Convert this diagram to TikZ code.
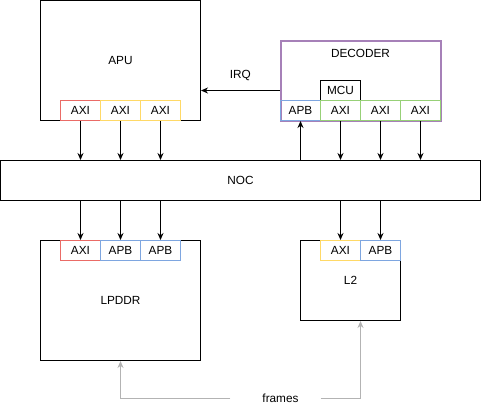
\documentclass[tikz,border=0pt]{standalone}
\usepackage{fontspec}
\setmainfont{Liberation Sans}
\usetikzlibrary{arrows.meta}
\definecolor{axired}{HTML}{EA6B66}
\definecolor{axiyellow}{HTML}{FFD966}
\definecolor{apbblue}{HTML}{7EA6E0}
\definecolor{axigreen}{HTML}{97D077}
\definecolor{decpurple}{HTML}{A680B8}
\definecolor{framegray}{HTML}{B3B3B3}
\begin{document}
\begin{tikzpicture}[x=1pt, y=-1pt, font=\fontsize{11.8}{14}\selectfont,
	block/.style={draw, line width=1pt, inner sep=0pt},
	port/.style={draw, line width=1pt, minimum width=40pt, minimum height=20pt, inner sep=0pt},
	link/.style={line width=1pt, -{Stealth[length=7pt, width=6pt]}},
	feed/.style={line width=1pt, draw=framegray, -{Stealth[length=7pt, width=6pt]}}]
		\useasboundingbox (-0.5,-0.5) rectangle (480.5,414.5);
		% APU
		\node[block, minimum width=160pt, minimum height=120pt] (apu) at (120,60) {APU};
		\node[port, draw=axired] (apuAxiA) at (80,110) {AXI};
		\node[port, draw=axiyellow] (apuAxiB) at (120,110) {AXI};
		\node[port, draw=axiyellow] (apuAxiC) at (160,110) {AXI};
		% Decoder
		\node[block, draw=decpurple, line width=2pt, minimum width=160pt, minimum height=80pt] (decoder) at (360,80) {};
		\node (decLabel) at (360,53) {DECODER};
		\node[port] (mcu) at (340,90) {MCU};
		\node[port, draw=apbblue] (decApb) at (300,110) {APB};
		\node[port, draw=axigreen] (decAxiA) at (340,110) {AXI};
		\node[port, draw=axigreen] (decAxiB) at (380,110) {AXI};
		\node[port, draw=axigreen] (decAxiC) at (420,110) {AXI};
		% NOC
		\node[block, minimum width=480pt, minimum height=40pt] (noc) at (240,180) {NOC};
		% LPDDR
		\node[block, minimum width=160pt, minimum height=120pt] (lpddr) at (120,300) {LPDDR};
		\node[port, draw=axired] (ddrAxi) at (80,250) {AXI};
		\node[port, draw=apbblue] (ddrApbA) at (120,250) {APB};
		\node[port, draw=apbblue] (ddrApbB) at (160,250) {APB};
		% L2
		\node[block, minimum width=100pt, minimum height=80pt] (l2) at (350,280) {L2};
		\node[port, draw=axiyellow] (l2Axi) at (340,250) {AXI};
		\node[port, draw=apbblue] (l2Apb) at (380,250) {APB};
		% IRQ
		\draw[link] (decoder.west |- mcu) -- (decoder.west |- mcu -| apu.east) node[midway, yshift=15pt] {IRQ};
		% APU to NOC
		\draw[link] (apuAxiA.south) -- (apuAxiA.south |- noc.north);
		\draw[link] (apuAxiB.south) -- (apuAxiB.south |- noc.north);
		\draw[link] (apuAxiC.south) -- (apuAxiC.south |- noc.north);
		% Decoder and NOC
		\draw[link] (decApb.south |- noc.north) -- (decApb.south);
		\draw[link] (decAxiA.south) -- (decAxiA.south |- noc.north);
		\draw[link] (decAxiB.south) -- (decAxiB.south |- noc.north);
		\draw[link] (decAxiC.south) -- (decAxiC.south |- noc.north);
		% NOC to memories
		\draw[link] (noc.south -| ddrAxi) -- (ddrAxi.north);
		\draw[link] (noc.south -| ddrApbA) -- (ddrApbA.north);
		\draw[link] (noc.south -| ddrApbB) -- (ddrApbB.north);
		\draw[link] (noc.south -| l2Axi) -- (l2Axi.north);
		\draw[link] (noc.south -| l2Apb) -- (l2Apb.north);
		% Frames
		\node[inner sep=0pt] (frames) at (280,398) {frames};
		\draw[feed] ([xshift=-32pt]frames.west) -| (lpddr.south);
		\draw[feed] ([xshift=22pt]frames.east) -| ([xshift=10pt]l2.south);
	\end{tikzpicture}
\end{document}
